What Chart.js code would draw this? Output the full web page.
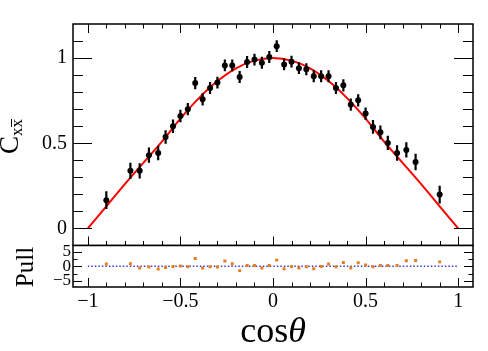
<!DOCTYPE html>
<html>
<head>
<meta charset="utf-8">
<script src="https://cdn.jsdelivr.net/npm/chart.js@4.4.1/dist/chart.umd.min.js"></script>
<style>
html, body { margin: 0; padding: 0; background: #fff; }
#wrap { position: relative; width: 488px; height: 351px; overflow: hidden; }
canvas { position: absolute; left: 0; }
#cMain { top: 0; }
#cPull { top: 244px; }
</style>
</head>
<body>
<div id="wrap">
  <canvas id="cMain" width="488" height="246"></canvas>
  <canvas id="cPull" width="488" height="107"></canvas>
</div>
<script>
// bin centres in cos(theta)
const cosTheta = [-0.90, -0.77, -0.72, -0.67, -0.62, -0.58, -0.54, -0.50, -0.46, -0.42,
                  -0.38, -0.34, -0.30, -0.26, -0.22, -0.18, -0.14, -0.10, -0.06, -0.02,
                   0.02,  0.06,  0.10,  0.14,  0.18,  0.22,  0.26,  0.30,  0.34,  0.38,
                   0.42,  0.46,  0.50,  0.54,  0.58,  0.62,  0.67,  0.72,  0.77,  0.90];
// measured C_xx values
const cxx = [0.166, 0.338, 0.338, 0.430, 0.443, 0.537, 0.600, 0.660, 0.700, 0.853,
             0.758, 0.824, 0.856, 0.957, 0.957, 0.889, 0.977, 0.991, 0.973, 1.006,
             1.070, 0.963, 0.979, 0.941, 0.934, 0.893, 0.893, 0.893, 0.824, 0.840,
             0.727, 0.752, 0.674, 0.596, 0.564, 0.502, 0.443, 0.461, 0.390, 0.199];
const cxxErr = [0.052, 0.048, 0.045, 0.045, 0.042, 0.040, 0.040, 0.036, 0.036, 0.036,
                0.036, 0.035, 0.035, 0.035, 0.035, 0.035, 0.035, 0.035, 0.035, 0.035,
                0.035, 0.035, 0.035, 0.035, 0.035, 0.035, 0.035, 0.035, 0.035, 0.036,
                0.036, 0.036, 0.036, 0.040, 0.040, 0.042, 0.045, 0.045, 0.048, 0.052];
// pulls (data - fit) / error
const pull = [0.75, 0.85, -0.60, -0.27, -0.95, -0.40, -0.07, 0.07, -0.17, 2.65,
              -0.60, -0.17, -0.27, 1.77, 0.85, -1.50, 0.27, 0.27, -0.60, 0.27,
              2.10, -0.85, -0.07, -0.60, -0.17, -0.85, -0.07, 0.75, -0.17, 1.30,
              -0.60, 1.20, 0.40, -0.17, 0.27, 0.27, 0.27, 1.87, 2.00, 1.50];
// fit curve
const fitX = [-1, -0.9, -0.8, -0.7, -0.6, -0.5, -0.4, -0.3, -0.2, -0.1, 0,
              0.1, 0.2, 0.3, 0.4, 0.5, 0.6, 0.7, 0.8, 0.9, 1];
const fitY = [0, 0.13, 0.26, 0.385, 0.51, 0.645, 0.765, 0.865, 0.94, 0.985, 1.0,
              0.985, 0.94, 0.865, 0.765, 0.645, 0.51, 0.385, 0.26, 0.13, 0];

const xTicks = [-1, -0.5, 0, 0.5, 1];
const yTicksMain = [0, 0.5, 1];
const yTicksPull = [-5, 0, 5];

const SERIF = "'Liberation Serif', 'DejaVu Serif', serif";
Chart.defaults.font.family = SERIF;
Chart.defaults.color = '#000';
Chart.defaults.animation = false;

const fmt = v => (v < 0 ? '\u2212' + Math.abs(v) : String(v));

function tickSet(majors, lo, hi, step, majLen, minLen) {
  const out = majors.map(v => ({ v, len: majLen }));
  for (let v = lo; v <= hi + 1e-9; v += step) {
    const r = Math.round(v * 100) / 100;
    if (!majors.some(m => Math.abs(m - r) < 1e-6)) out.push({ v: r, len: minLen });
  }
  return out;
}

const frameTicks = {
  id: 'frameTicks',
  afterDraw(chart, args, o) {
    const { ctx, chartArea: a } = chart;
    const sx = chart.scales.x, sy = chart.scales.y;
    ctx.save();
    ctx.strokeStyle = '#000';
    ctx.lineWidth = 1;
    ctx.beginPath();
    o.x.forEach(t => {
      const px = Math.round(sx.getPixelForValue(t.v)) + 0.5;
      ctx.moveTo(px, a.bottom); ctx.lineTo(px, a.bottom - t.len);
      if (o.xTop) { ctx.moveTo(px, a.top); ctx.lineTo(px, a.top + t.len); }
    });
    o.y.forEach(t => {
      const py = Math.round(sy.getPixelForValue(t.v)) + 0.5;
      ctx.moveTo(a.left, py); ctx.lineTo(a.left + t.len, py);
      ctx.moveTo(a.right, py); ctx.lineTo(a.right - t.len, py);
    });
    ctx.stroke();
    ctx.lineWidth = 1.5;
    ctx.strokeRect(a.left, a.top, a.right - a.left, a.bottom - a.top);
    ctx.restore();
  }
};

const errorBars = {
  id: 'errorBars',
  beforeDatasetDraw(chart, args) {
    if (args.index !== 1) return;
    const { ctx } = chart;
    const sx = chart.scales.x, sy = chart.scales.y;
    ctx.save();
    ctx.strokeStyle = '#000';
    ctx.lineWidth = 2.2;
    ctx.beginPath();
    cosTheta.forEach((x, i) => {
      const px = sx.getPixelForValue(x);
      ctx.moveTo(px, sy.getPixelForValue(cxx[i] - cxxErr[i]));
      ctx.lineTo(px, sy.getPixelForValue(cxx[i] + cxxErr[i]));
    });
    ctx.stroke();
    ctx.restore();
  }
};

const mainTitle = {
  id: 'mainTitle',
  afterDraw(chart) {
    const { ctx } = chart;
    ctx.save();
    ctx.translate(18, 154);
    ctx.rotate(-Math.PI / 2);
    ctx.fillStyle = '#000';
    ctx.strokeStyle = '#000';
    ctx.textBaseline = 'alphabetic';
    ctx.font = '27px ' + SERIF;
    ctx.fillText('C', 0, 0);
    const w = ctx.measureText('C').width;
    ctx.font = '17px ' + SERIF;
    ctx.fillText('xx', w, 4);
    const wx = ctx.measureText('x').width;
    ctx.lineWidth = 1;
    ctx.beginPath();
    ctx.moveTo(w + wx + 0.5, -6.5);
    ctx.lineTo(w + 2 * wx, -6.5);
    ctx.stroke();
    ctx.restore();
  }
};

const pullTitles = {
  id: 'pullTitles',
  afterDraw(chart) {
    const { ctx } = chart;
    ctx.save();
    ctx.fillStyle = '#000';
    ctx.font = '25px ' + SERIF;
    ctx.textBaseline = 'alphabetic';
    const pw = ctx.measureText('Pull').width;
    ctx.translate(33, 23 + pw / 2);
    ctx.rotate(-Math.PI / 2);
    ctx.fillText('Pull', 0, 0);
    ctx.restore();

    ctx.save();
    ctx.fillStyle = '#000';
    ctx.textBaseline = 'alphabetic';
    ctx.font = '36px ' + SERIF;
    const w1 = ctx.measureText('cos').width;
    ctx.font = 'italic 36px ' + SERIF;
    const w2 = ctx.measureText('\u03b8').width;
    const x0 = 273 - (w1 + w2) / 2;
    ctx.font = '36px ' + SERIF;
    ctx.fillText('cos', x0, 98);
    ctx.font = 'italic 36px ' + SERIF;
    ctx.fillText('\u03b8', x0 + w1, 98);
    ctx.restore();
  }
};

const fixedTicks = list => scale => { scale.ticks = list.map(v => ({ value: v })); };
const noPad = (dim, size) => s => {
  s[dim] = size;
  s.paddingTop = 0; s.paddingBottom = 0; s.paddingLeft = 0; s.paddingRight = 0;
};

new Chart(document.getElementById('cMain'), {
  data: {
    datasets: [
      {
        type: 'line',
        data: fitX.map((x, i) => ({ x, y: fitY[i] })),
        borderColor: '#ff0000',
        borderWidth: 2,
        pointRadius: 0,
        cubicInterpolationMode: 'monotone',
        fill: false,
        order: 2
      },
      {
        type: 'scatter',
        data: cosTheta.map((x, i) => ({ x, y: cxx[i] })),
        backgroundColor: '#000',
        borderColor: '#000',
        pointRadius: 3,
        borderWidth: 0,
        order: 1
      }
    ]
  },
  options: {
    responsive: false,
    layout: { autoPadding: false, padding: { left: 0, right: 15, top: 24, bottom: 0.5 } },
    plugins: {
      legend: { display: false },
      tooltip: { enabled: false },
      frameTicks: {
        xTop: true,
        x: tickSet(xTicks, -1, 1, 0.1, 9, 4.5),
        y: tickSet(yTicksMain, 0, 1.1, 0.1, 19, 10)
      }
    },
    scales: {
      x: { type: 'linear', min: -1.08, max: 1.08, display: false },
      y: {
        type: 'linear', min: -0.1, max: 1.2,
        afterBuildTicks: fixedTicks(yTicksMain),
        afterFit: noPad('width', 73),
        grid: { display: false, drawTicks: false },
        border: { display: false },
        ticks: { autoSkip: false, padding: 6, font: { size: 20 }, callback: v => fmt(v) }
      }
    }
  },
  plugins: [frameTicks, errorBars, mainTitle]
});

new Chart(document.getElementById('cPull'), {
  data: {
    datasets: [
      {
        type: 'line',
        data: [{ x: -1, y: 0 }, { x: 1, y: 0 }],
        borderColor: '#3a3ad0',
        borderWidth: 1.5,
        borderDash: [1.5, 2],
        pointRadius: 0,
        fill: false,
        order: 2
      },
      {
        type: 'scatter',
        data: cosTheta.map((x, i) => ({ x, y: pull[i] })),
        pointStyle: 'rect',
        pointRadius: 2.1,
        backgroundColor: '#e57d1f',
        borderWidth: 0,
        order: 1
      }
    ]
  },
  options: {
    responsive: false,
    layout: { autoPadding: false, padding: { left: 0, right: 15, top: 1.5, bottom: 0 } },
    plugins: {
      legend: { display: false },
      tooltip: { enabled: false },
      frameTicks: {
        xTop: false,
        x: tickSet(xTicks, -1, 1, 0.1, 9, 4.5),
        y: tickSet(yTicksPull, -2.5, 2.5, 5, 9, 4.5)
      }
    },
    scales: {
      x: {
        type: 'linear', min: -1.08, max: 1.08,
        afterBuildTicks: fixedTicks(xTicks),
        afterFit: noPad('height', 64),
        grid: { display: false, drawTicks: false },
        border: { display: false },
        ticks: { autoSkip: false, maxRotation: 0, padding: 3, font: { size: 20 }, callback: v => fmt(v) }
      },
      y: {
        type: 'linear', min: -7.1, max: 7.1,
        afterBuildTicks: fixedTicks(yTicksPull),
        afterFit: noPad('width', 73),
        grid: { display: false, drawTicks: false },
        border: { display: false },
        ticks: { autoSkip: false, padding: 2, font: { size: 17 }, callback: v => fmt(v) }
      }
    }
  },
  plugins: [frameTicks, pullTitles]
});
</script>
</body>
</html>
